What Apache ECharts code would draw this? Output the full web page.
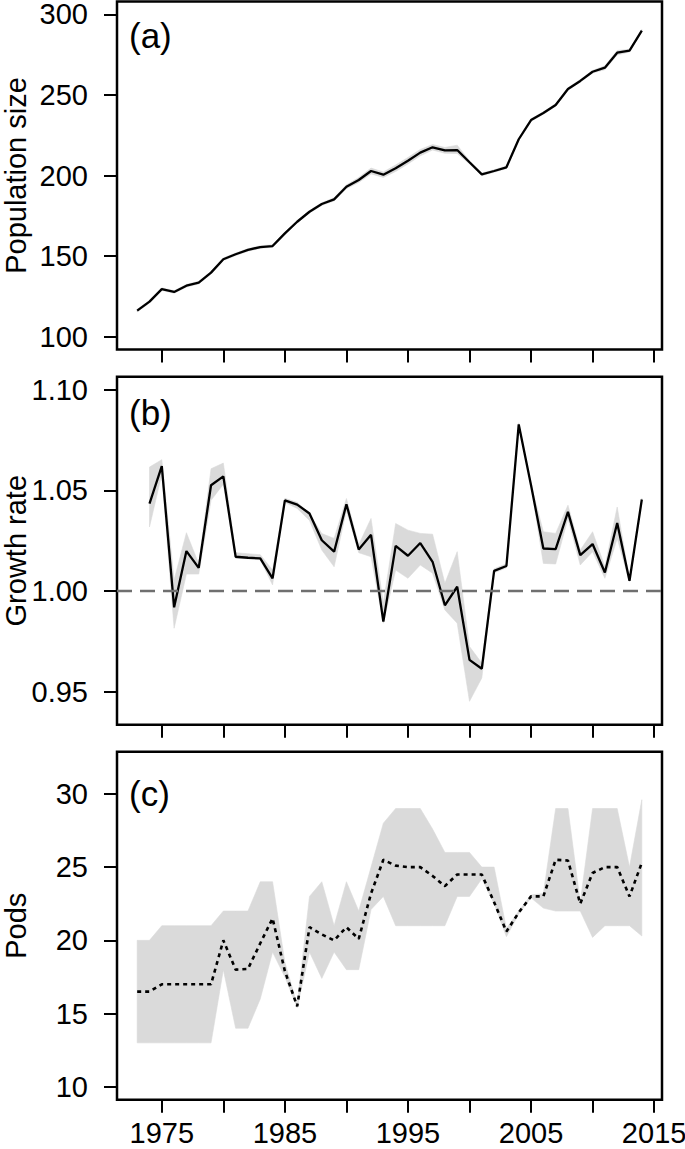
<!DOCTYPE html>
<html><head><meta charset="utf-8">
<script src="https://cdn.jsdelivr.net/npm/echarts@6/dist/echarts.min.js"></script>
<style>html,body{margin:0;padding:0;background:#fff}#c{width:685px;height:1149px}</style>
</head><body><div id="c"></div>
<script>
// ---- data ----
const years = [1973,1974,1975,1976,1977,1978,1979,1980,1981,1982,1983,1984,1985,1986,1987,1988,1989,1990,1991,1992,1993,1994,1995,1996,1997,1998,1999,2000,2001,2002,2003,2004,2005,2006,2007,2008,2009,2010,2011,2012,2013,2014];
const growthYears = [1974,1975,1976,1977,1978,1979,1980,1981,1982,1983,1984,1985,1986,1987,1988,1989,1990,1991,1992,1993,1994,1995,1996,1997,1998,1999,2000,2001,2002,2003,2004,2005,2006,2007,2008,2009,2010,2011,2012,2013,2014];

const popSize = [116.1,121.7,129.5,127.7,131.6,133.5,139.7,148.0,151.1,153.8,155.6,156.2,164.1,171.3,177.5,182.3,185.2,193.0,197.2,202.8,200.5,204.5,209.2,214.2,217.5,215.6,215.8,208.2,200.7,202.8,205.1,222.5,234.4,238.8,243.8,253.7,258.7,264.4,266.9,276.2,277.5,289.9];
const popLow  = [115.3,120.9,128.7,126.9,130.8,132.7,138.9,147.2,150.3,153.0,154.8,155.4,163.3,170.5,176.7,181.5,184.2,191.8,195.7,201.0,198.8,202.5,207.2,212.2,215.8,213.8,213.6,207.2,199.9,202.0,204.3,221.7,233.6,238.0,243.0,252.9,257.9,263.6,265.7,274.8,276.7,289.1];
const popHigh = [116.9,122.5,130.3,128.5,132.4,134.3,140.5,148.8,151.9,154.6,156.4,157.0,164.9,172.1,178.3,183.1,186.2,194.2,198.7,204.6,202.2,206.5,211.2,216.2,219.2,217.4,218.8,209.2,201.5,203.6,205.9,223.3,235.2,239.6,244.6,254.5,259.5,265.2,268.1,277.6,278.3,290.7];

const growth     = [1.0434,1.0620,0.9919,1.0198,1.0115,1.0525,1.0569,1.0170,1.0165,1.0162,1.0063,1.0450,1.0429,1.0385,1.0252,1.0195,1.0431,1.0206,1.0279,0.9848,1.0224,1.0175,1.0238,1.0145,0.9929,1.0021,0.9658,0.9614,1.0100,1.0124,1.0827,1.0525,1.0211,1.0208,1.0393,1.0178,1.0233,1.0092,1.0338,1.0051,1.0454];
const growthLow  = [1.0318,1.0580,0.9815,1.0084,1.0084,1.0450,1.0530,1.0162,1.0160,1.0155,1.0030,1.0440,1.0410,1.0350,1.0203,1.0120,1.0401,1.0190,1.0170,0.9840,1.0104,1.0063,1.0129,1.0088,0.9906,0.9840,0.9452,0.9568,1.0090,1.0115,1.0820,1.0520,1.0137,1.0134,1.0360,1.0129,1.0195,1.0063,1.0261,1.0045,1.0450];
const growthHigh = [1.0615,1.0652,1.0054,1.0289,1.0135,1.0607,1.0635,1.0190,1.0185,1.0180,1.0104,1.0460,1.0440,1.0385,1.0285,1.0261,1.0459,1.0230,1.0360,0.9939,1.0335,1.0302,1.0286,1.0282,1.0038,1.0195,0.9724,0.9642,1.0110,1.0135,1.0835,1.0530,1.0294,1.0286,1.0426,1.0203,1.0294,1.0120,1.0417,1.0058,1.0460];

const pods     = [16.5,16.5,17.0,17.0,17.0,17.0,17.0,20.0,18.0,18.05,19.8,21.5,17.9,15.5,20.9,20.4,20.0,20.9,20.1,23.2,25.5,25.1,25.0,25.0,24.4,23.7,24.5,24.5,24.5,22.6,20.6,21.9,23.0,23.0,25.5,25.45,22.5,24.6,25.0,25.0,23.0,25.3];
const podsLow  = [13,13,13,13,13,13,13,18,14,14,16,19.2,17.5,15.4,19.2,17.4,19.2,18,18,22.1,23,21,21,21,21,21,23,23,24.2,22.5,20.25,21.8,22.9,22.2,22,22,22,20.2,21,21,21,20.3];
const podsHigh = [20,20,21,21,21,21,21,22,22,22,24,24,18.5,15.6,23,24,21,24,22,25,28,29,29,29,27.6,26,26,26,25,25,20.8,22.0,23.1,23.2,29,29,22.6,29,29,29,25,29.6];

const xTickYears  = [1975,1980,1985,1990,1995,2000,2005,2010,2015];
const xLabelYears = [1975,1985,1995,2005,2015];
const popTicks    = [100,150,200,250,300];
const growthTicks = [0.95,1.00,1.05,1.10];
const podsTicks   = [10,15,20,25,30];
const panelLabels = ['(a)','(b)','(c)'];
const axisTitles  = ['Population size','Growth rate','Pods'];

// ---- layout / style ----
const FONT = '"Liberation Sans", Arial, Helvetica, sans-serif';
const XMIN = 1971.36, XMAX = 2015.64;
const yRanges = [[92,308],[0.9336,1.1064],[9.12,32.88]];
const yTicks = [popTicks, growthTicks, podsTicks];
const yFmt = [v=>String(v), v=>v.toFixed(2), v=>String(v)];
const gridTops = [1.5, 376.7, 751.7];
const GH = 348;
const labelY = [35, 412, 793];

const pair = (xs, ys) => xs.map((x,i)=>[x, ys[i]]);

const grids = gridTops.map(t=>({left:117, right:23, top:t, height:GH, show:true, borderColor:'#000', borderWidth:2.5, backgroundColor:'transparent', containLabel:false, outerBoundsMode:'none'}));

const xAxes = [0,1,2].map(i=>({
  type:'value', gridIndex:i, min:XMIN, max:XMAX,
  axisLine:{show:false, onZero:false},
  splitLine:{show:false},
  axisTick:{show:true, customValues:xTickYears, length:13, lineStyle:{color:'#000', width:2}},
  axisLabel:{show:i===2, customValues:xLabelYears, fontSize:29, fontFamily:FONT, color:'#000', margin:19, formatter:v=>String(v)}
}));

const yAxes = [0,1,2].map(i=>({
  type:'value', gridIndex:i, min:yRanges[i][0], max:yRanges[i][1],
  axisLine:{show:false, onZero:false},
  splitLine:{show:false},
  axisTick:{show:true, customValues:yTicks[i], length:13, lineStyle:{color:'#000', width:2}},
  axisLabel:{customValues:yTicks[i], fontSize:29, lineHeight:24, fontFamily:FONT, color:'#000', margin:29, formatter:yFmt[i]}
}));

function band(i, xs, lo, hi){
  return {
    type:'custom', xAxisIndex:i, yAxisIndex:i, silent:true, z:1, clip:true,
    data: xs.map((x,k)=>[x, lo[k], hi[k]]),
    encode:{x:0, y:[1,2]},
    renderItem:(params, api)=>{
      if (params.dataIndex !== 0) return null;
      const top = xs.map((x,k)=>api.coord([x, hi[k]]));
      const bot = xs.map((x,k)=>api.coord([x, lo[k]])).reverse();
      return {type:'polygon', shape:{points: top.concat(bot)}, style:{fill:'#dadada', stroke:'#dadada', lineWidth:0.6}};
    }
  };
}

const series = [
  band(0, years, popLow, popHigh),
  {type:'line', xAxisIndex:0, yAxisIndex:0, data:pair(years, popSize), symbol:'none', lineStyle:{color:'#000', width:2.3}, z:3},
  band(1, growthYears, growthLow, growthHigh),
  {type:'line', xAxisIndex:1, yAxisIndex:1, data:pair(growthYears, growth), symbol:'none', lineStyle:{color:'#000', width:2.3}, z:3,
    markLine:{silent:true, symbol:['none','none'], label:{show:false}, lineStyle:{color:'#6f6f6f', width:2.3, type:[15,8]}, data:[{yAxis:1}]}},
  band(2, years, podsLow, podsHigh),
  {type:'line', xAxisIndex:2, yAxisIndex:2, data:pair(years, pods), symbol:'none', lineStyle:{color:'#000', width:2.6, type:[4,4]}, z:3}
];

const graphic = [
  ...panelLabels.map((t,i)=>({
    type:'text', x:129, y:labelY[i], z:10,
    style:{text:t, fontSize:35, fontFamily:FONT, fill:'#000', verticalAlign:'middle', align:'left'}
  })),
  ...axisTitles.map((t,i)=>({
    type:'text', x:16, y:gridTops[i] + GH/2, rotation:Math.PI/2, z:10,
    style:{text:t, fontSize:29, lineHeight:29, fontFamily:FONT, fill:'#000', verticalAlign:'middle', align:'center'}
  }))
];

const chart = echarts.init(document.getElementById('c'), null, {renderer:'svg'});
chart.setOption({
  animation:false,
  backgroundColor:'#fff',
  grid:grids, xAxis:xAxes, yAxis:yAxes, series:series, graphic:graphic
});
</script>
</body></html>
